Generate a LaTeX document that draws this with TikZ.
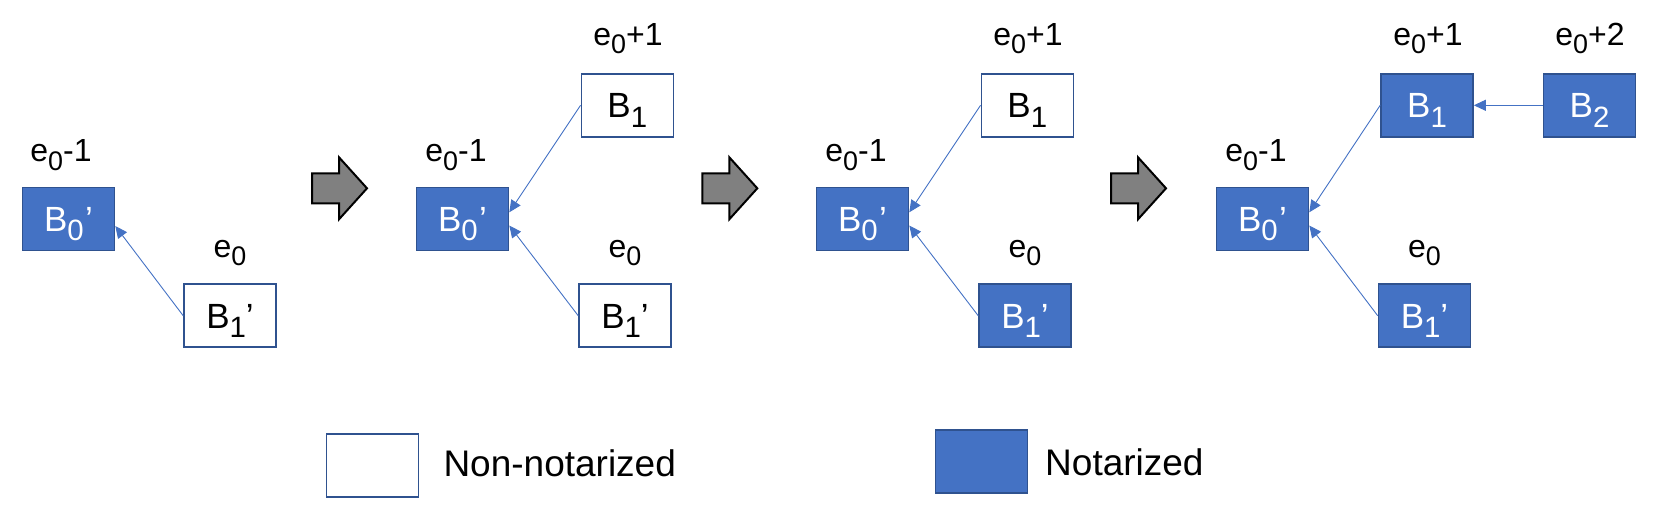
\documentclass[tikz,border=0pt]{standalone}
\usepackage{fontspec}
\setmainfont{Liberation Sans}
\usetikzlibrary{arrows.meta}
\definecolor{nblue}{HTML}{4472C4}
\definecolor{nborder}{HTML}{2F528F}
\definecolor{agray}{HTML}{808080}
\newcommand{\sbs}[1]{\raisebox{-0.27em}{\scalebox{0.84}{#1}}}
\begin{document}
\begin{tikzpicture}[x=1pt,y=-1pt,
  blk/.style={draw=nborder,line width=1.6pt,minimum width=92pt,minimum height=63pt,
    inner sep=0pt,font=\fontsize{35}{41}\selectfont,text height=25pt,text depth=0pt},
  notar/.style={blk,fill=nblue,text=white},
  nonnot/.style={blk,fill=white,text=black},
  lbl/.style={anchor=base,font=\fontsize{32}{38}\selectfont,inner sep=0pt},
  legtext/.style={anchor=base west,font=\fontsize{37}{44}\selectfont,inner sep=0pt},
  conn/.style={draw=nblue,line width=0.9pt,-{Triangle[length=12pt,width=11pt]}},
  garrow/.pic={\filldraw[fill=agray,draw=black,line width=2pt,miter limit=10]
    (0,-15) -- (27,-15) -- (27,-31) -- (55,0) -- (27,31) -- (27,15) -- (0,15) -- cycle;}
]
\useasboundingbox (0,0) rectangle (1654,509);

% panel 1
\node[notar] (p1b0) at (68.5,219) {B\sbs{0}\kern1.5pt’};
\node[nonnot] (p1b1p) at (230,315.7) {B\sbs{1}’};
\node[lbl] (p1l0) at (61,161.7) {e\sbs{0}-1};
\node[lbl] (p1l1) at (230,257) {e\sbs{0}};
\draw[conn] (p1b1p.west) -- ([yshift=-7pt]p1b0.east);

\pic at (312,188.3) {garrow};

% panel 2
\node[notar] (p2b0) at (462.5,219) {B\sbs{0}\kern1.5pt’};
\node[nonnot] (p2b1) at (627.3,105.3) {B\sbs{1}};
\node[nonnot] (p2b1p) at (625,315.7) {B\sbs{1}’};
\node[lbl] (p2l0) at (456,161.7) {e\sbs{0}-1};
\node[lbl] (p2l1) at (628,45) {e\sbs{0}+1};
\node[lbl] (p2l2) at (625,257) {e\sbs{0}};
\draw[conn] (p2b1.west) -- ([yshift=6.7pt]p2b0.east);
\draw[conn] (p2b1p.west) -- ([yshift=-6.5pt]p2b0.east);

\pic at (702.3,188.3) {garrow};

% panel 3
\node[notar] (p3b0) at (862.5,219) {B\sbs{0}\kern1.5pt’};
\node[nonnot] (p3b1) at (1027.3,105.3) {B\sbs{1}};
\node[notar] (p3b1p) at (1025,315.7) {B\sbs{1}’};
\node[lbl] (p3l0) at (856,161.7) {e\sbs{0}-1};
\node[lbl] (p3l1) at (1028,45) {e\sbs{0}+1};
\node[lbl] (p3l2) at (1025,257) {e\sbs{0}};
\draw[conn] (p3b1.west) -- ([yshift=6.7pt]p3b0.east);
\draw[conn] (p3b1p.west) -- ([yshift=-6.5pt]p3b0.east);

\pic at (1111,188.3) {garrow};

% panel 4
\node[notar] (p4b0) at (1262.5,219) {B\sbs{0}\kern1.5pt’};
\node[notar] (p4b1) at (1427,105.3) {B\sbs{1}};
\node[notar] (p4b2) at (1589.5,105.3) {B\sbs{2}};
\node[notar] (p4b1p) at (1424.5,315.7) {B\sbs{1}’};
\node[lbl] (p4l0) at (1256,161.7) {e\sbs{0}-1};
\node[lbl] (p4l1) at (1428,45) {e\sbs{0}+1};
\node[lbl] (p4l3) at (1590,45) {e\sbs{0}+2};
\node[lbl] (p4l2) at (1424.5,257) {e\sbs{0}};
\draw[conn] (p4b1.west) -- ([yshift=6.7pt]p4b0.east);
\draw[conn] (p4b1p.west) -- ([yshift=-6.5pt]p4b0.east);
\draw[conn] (p4b2.west) -- (p4b1.east);

% legend
\node[nonnot] (legn) at (372.5,465.5) {};
\node[legtext] (legnt) at (443.3,476.7) {Non-notarized};
\node[notar] (legy) at (981.3,461.7) {};
\node[legtext] (legyt) at (1045,475) {Notarized};
\end{tikzpicture}
\end{document}
